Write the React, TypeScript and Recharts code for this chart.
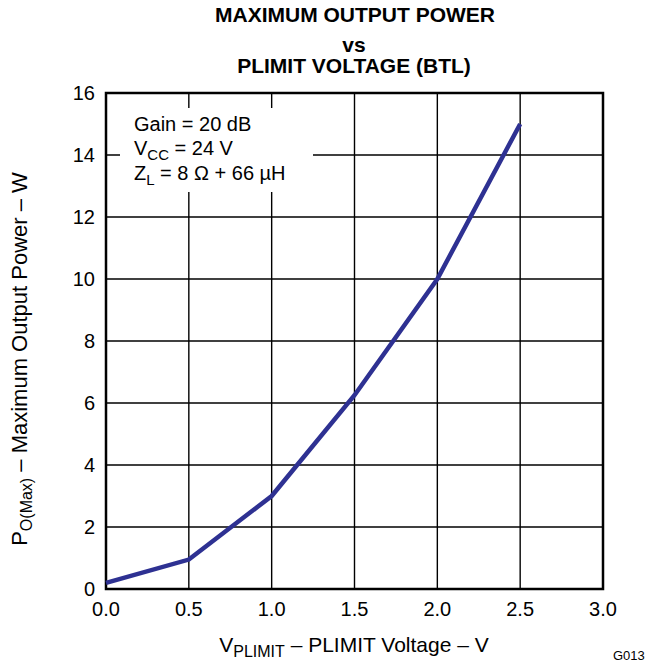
import React from "react";
import { CartesianGrid, Line, LineChart, ReferenceArea, XAxis, YAxis } from "recharts";

// PLIMIT voltage (V) vs max output power (W)
const plimitVolts = [0, 0.5, 1.0, 1.5, 2.0, 2.5];
const powerWatts = [0.2, 0.95, 3.0, 6.25, 10.0, 15.0];

const xTicks = [0, 0.5, 1.0, 1.5, 2.0, 2.5, 3.0];
const yTicks = [0, 2, 4, 6, 8, 10, 12, 14, 16];

const data = plimitVolts.map((v, i) => ({ v, p: powerWatts[i] }));

const FONT = "'Liberation Sans', Arial, Helvetica, sans-serif";

const Overlay = () => (
  <svg
    width={645}
    height={668}
    style={{ position: "absolute", left: 0, top: 0, pointerEvents: "none" }}
    fontFamily={FONT}
  >
    {/* title */}
    <g fontWeight="bold" fontSize={21} textAnchor="middle" fill="#000">
      <text x={355} y={22}>MAXIMUM OUTPUT POWER</text>
      <text x={354} y={52}>vs</text>
      <text x={354} y={73}>PLIMIT VOLTAGE (BTL)</text>
    </g>

    {/* conditions box */}
    <rect x={120} y={108} width={193} height={84} fill="#fff" />
    <g fontSize={20} fill="#000">
      <text x={134} y={131}>Gain = 20 dB</text>
      <text x={134} y={155}>
        V<tspan fontSize={15} dy={5}>CC</tspan>
        <tspan dy={-5}> = 24 V</tspan>
      </text>
      <text x={134} y={180}>
        Z<tspan fontSize={15} dy={5}>L</tspan>
        <tspan dy={-5}> = 8 Ω + 66 µH</tspan>
      </text>
    </g>

    {/* axis titles */}
    <text x={354} y={652} fontSize={21} textAnchor="middle" fill="#000">
      V<tspan fontSize={16} dy={5}>PLIMIT</tspan>
      <tspan dy={-5}> – PLIMIT Voltage – V</tspan>
    </text>
    <text
      transform="translate(27,359) rotate(-90)"
      fontSize={22}
      textAnchor="middle"
      fill="#000"
    >
      P<tspan fontSize={16} dy={5}>O(Max)</tspan>
      <tspan dy={-5}> – Maximum Output Power – W</tspan>
    </text>

    <text x={613} y={660} fontSize={13} fill="#000">G013</text>
  </svg>
);

export default function App() {
  return (
    <div style={{ position: "absolute", left: 0, top: 0, width: 645, height: 668, background: "#fff" }}>
      <LineChart
        width={645}
        height={668}
        data={data}
        margin={{ top: 93, right: 42, bottom: 49, left: 46 }}
      >
        <CartesianGrid stroke="#000" strokeWidth={1.4} />
        <XAxis
          dataKey="v"
          type="number"
          domain={[0, 3]}
          ticks={xTicks}
          tickFormatter={(t: number) => t.toFixed(1)}
          axisLine={false}
          tickLine={false}
          tickSize={0}
          tickMargin={13}
          height={30}
          tick={{ fill: "#000", fontSize: 20, fontFamily: FONT }}
        />
        <YAxis
          type="number"
          domain={[0, 16]}
          ticks={yTicks}
          axisLine={false}
          tickLine={false}
          tickSize={0}
          tickMargin={11}
          width={60}
          tick={{ fill: "#000", fontSize: 20, fontFamily: FONT }}
        />
        <ReferenceArea x1={0} x2={3} y1={0} y2={16} fill="none" stroke="#000" strokeWidth={2.5} fillOpacity={0} />
        <Line
          dataKey="p"
          type="linear"
          stroke="#2e3192"
          strokeWidth={4.5}
          dot={false}
          isAnimationActive={false}
        />
      </LineChart>
      <Overlay />
    </div>
  );
}
